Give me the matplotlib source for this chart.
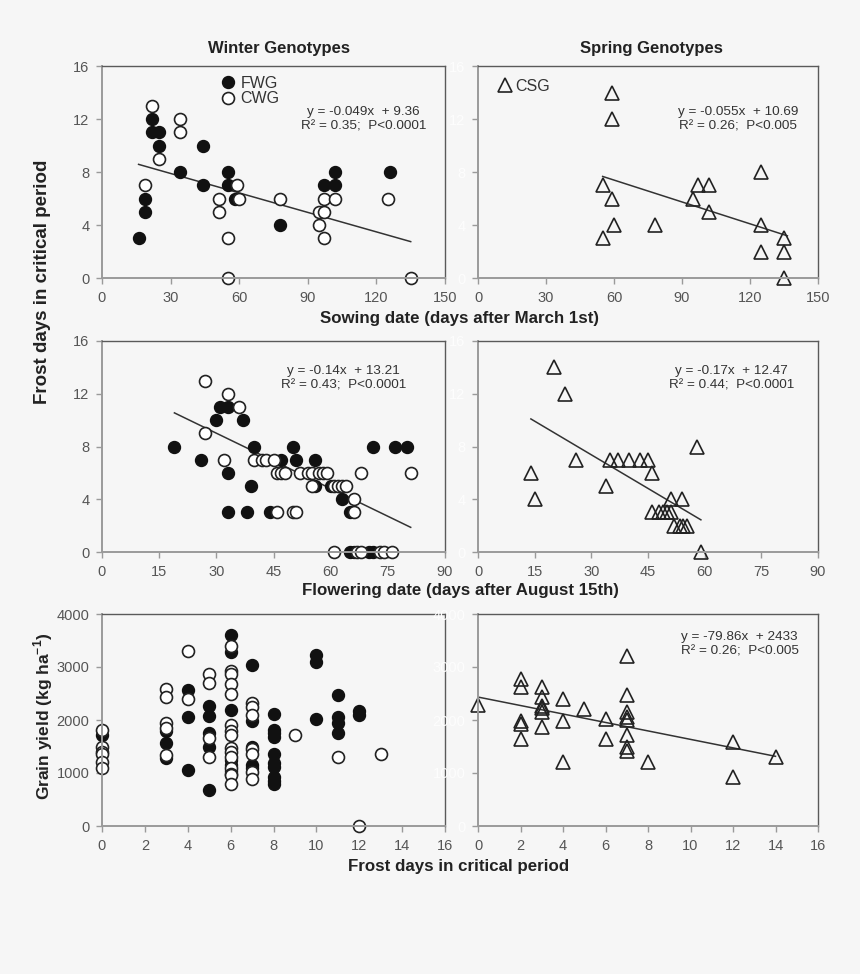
import matplotlib
matplotlib.use("Agg")
import matplotlib.pyplot as plt
import numpy as np

plt.rcParams['font.family'] = ['Liberation Sans', 'DejaVu Sans']
plt.rcParams['mathtext.fontset'] = 'custom'
plt.rcParams['mathtext.rm'] = 'Liberation Sans'
plt.rcParams['mathtext.bf'] = 'Liberation Sans:bold'

BG = '#f6f6f6'

# ---------------- Data ----------------
# Row 1: sowing date vs frost days
sow_fwg_x = [16, 19, 19, 22, 22, 25, 25, 34, 44, 44, 55, 55, 58, 78, 97, 102, 102, 126]
sow_fwg_y = [3, 6, 5, 12, 11, 11, 10, 8, 10, 7, 8, 7, 6, 4, 7, 8, 7, 8]
sow_cwg_x = [19, 22, 25, 34, 34, 51, 51, 55, 55, 59, 60, 78, 95, 95, 97, 97, 97, 102, 125, 135]
sow_cwg_y = [7, 13, 9, 12, 11, 6, 5, 3, 0, 7, 6, 6, 5, 4, 5, 6, 3, 6, 6, 0]
sow_csg_x = [59, 59, 55, 59, 60, 55, 78, 95, 97, 102, 102, 125, 125, 125, 135, 135, 135]
sow_csg_y = [14, 12, 7, 6, 4, 3, 4, 6, 7, 7, 5, 8, 4, 2, 3, 2, 0]

# Row 2: flowering date vs frost days
flo_fwg_x = [19, 26, 30, 31, 33, 33, 33, 37, 38, 39, 40, 44, 47, 50, 51, 56, 56, 60, 63,
             65, 71, 77, 80, 65, 66, 70, 71]
flo_fwg_y = [8, 7, 10, 11, 11, 6, 3, 10, 3, 5, 8, 3, 7, 8, 7, 7, 5, 5, 4,
             3, 8, 8, 8, 0, 0, 0, 0]
flo_cwg_x = [27, 27, 32, 33, 36, 40, 42, 43, 45, 46, 47, 48, 52, 54, 55, 57, 58, 59, 68, 81,
             55, 61, 62, 63, 64, 66, 46, 50, 51, 66, 61, 67, 68, 73, 74, 76]
flo_cwg_y = [13, 9, 7, 12, 11, 7, 7, 7, 7, 6, 6, 6, 6, 6, 6, 6, 6, 6, 6, 6,
             5, 5, 5, 5, 5, 4, 3, 3, 3, 3, 0, 0, 0, 0, 0, 0]
flo_csg_x = [20, 23, 26, 14, 15, 34, 35, 37, 40, 43, 45, 46, 58, 51, 54, 46, 48, 49, 50, 51,
             52, 53.5, 54.3, 55.2, 59]
flo_csg_y = [14, 12, 7, 6, 4, 5, 7, 7, 7, 7, 7, 6, 8, 4, 4, 3, 3, 3, 3, 3,
             2, 2, 2, 2, 0]

# Row 3: frost days vs grain yield
yld_fwg_x = [0, 3, 3, 3, 4, 4, 4, 5, 5, 5, 5, 5, 6, 6, 6, 6, 6, 6,
             7, 7, 7, 7, 7, 8, 8, 8, 8, 8, 8, 8, 8, 8, 8,
             10, 10, 10, 11, 11, 11, 11, 12, 12]
yld_fwg_y = [1720, 1790, 1570, 1280, 2570, 2060, 1060, 2270, 2070, 1760, 1490, 670,
             3600, 3290, 2190, 1250, 1150, 1030,
             3030, 1980, 1500, 1150, 1090,
             2110, 1810, 1750, 1670, 1360, 1180, 1120, 930, 840, 790,
             3230, 3100, 2020, 2480, 2060, 1940, 1750, 2170, 2090]
yld_cwg_x = [0, 0, 0, 0, 0, 0, 3, 3, 3, 3, 3, 4, 4, 5, 5, 5, 5,
             6, 6, 6, 6, 6, 6, 6, 6, 6, 6, 6, 6, 6, 6, 6,
             7, 7, 7, 7, 7, 7, 7, 9, 11, 12, 13]
yld_cwg_y = [1810, 1500, 1400, 1360, 1210, 1090, 2590, 2430, 1940, 1850, 1340, 3310, 2390,
             2860, 2690, 1660, 1300,
             3390, 2930, 2870, 2680, 2490, 1900, 1800, 1710, 1480, 1400, 1300, 1100, 990, 960, 790,
             2330, 2250, 2090, 1460, 1350, 1020, 880, 1720, 1310, 0, 1360]
yld_csg_x = [0, 2, 2, 2, 2, 2, 3, 3, 3, 3, 3, 3, 4, 4, 4, 5, 6, 6,
             7, 7, 7, 7, 7, 7, 7, 7, 8, 12, 12, 14]
yld_csg_y = [2280, 2770, 2620, 1990, 1920, 1650, 2620, 2430, 2260, 2220, 2160, 1860,
             2390, 1980, 1200, 2210, 2010, 1640,
             3200, 2470, 2160, 2050, 2000, 1720, 1500, 1420, 1210, 1590, 930, 1310]

# regression fits (slope, intercept, x range)
fit_sow_w = (-0.049, 9.36, 16, 135)
fit_sow_s = (-0.055, 10.69, 55, 136.5)
fit_flo_w = (-0.14, 13.21, 19, 81)
fit_flo_s = (-0.17, 12.47, 14, 59)
fit_yld_s = (-79.86, 2433, 0, 14)

eq_sow_w = "y = -0.049x  + 9.36\nR² = 0.35;  P<0.0001"
eq_sow_s = "y = -0.055x  + 10.69\nR² = 0.26;  P<0.005"
eq_flo_w = "y = -0.14x  + 13.21\nR² = 0.43;  P<0.0001"
eq_flo_s = "y = -0.17x  + 12.47\nR² = 0.44;  P<0.0001"
eq_yld_s = "y = -79.86x  + 2433\nR² = 0.26;  P<0.005"

# ---------------- Figure ----------------
fig = plt.figure(figsize=(8.6, 9.74), dpi=100, facecolor=BG)

L_x0, L_w = 102 / 860, 343 / 860
R_x0, R_w = 478 / 860, 340 / 860
rows = [(1 - 278 / 974, 212 / 974), (1 - 552 / 974, 211 / 974), (1 - 826 / 974, 212 / 974)]

def make_ax(x0, w, row):
    b, h = rows[row]
    ax = fig.add_axes([x0, b, w, h])
    ax.set_facecolor(BG)
    for s in ['top', 'right']:
        ax.spines[s].set_color('#5a5a5a')
        ax.spines[s].set_linewidth(1.0)
    for s in ['left', 'bottom']:
        ax.spines[s].set_color('#9a9a9a')
        ax.spines[s].set_linewidth(1.4)
    ax.tick_params(direction='out', length=4, width=1, color='#9a9a9a',
                   labelsize=10.5, labelcolor='#555555', pad=5)
    return ax

circ_f = dict(marker='o', ms=8.6, mfc='#111111', mec='#111111', mew=1.0, ls='none')
circ_o = dict(marker='o', ms=8.6, mfc='white', mec='#222222', mew=1.2, ls='none')
tri = dict(marker='^', ms=9.5, mfc='none', mec='#222222', mew=1.2, ls='none')

def fitline(ax, fit):
    m, c, x0, x1 = fit
    xs = np.array([x0, x1])
    ax.plot(xs, m * xs + c, color='#333333', lw=1.1, zorder=1)

def eq(ax, txt, x, y):
    ax.text(x, y, txt, transform=ax.transAxes, ha='center', va='top',
            fontsize=9.7, color='#333333', linespacing=1.3)

# Row 1
ax1 = make_ax(L_x0, L_w, 0)
fitline(ax1, fit_sow_w)
h1, = ax1.plot(sow_fwg_x, sow_fwg_y, **circ_f, clip_on=False)
h2, = ax1.plot(sow_cwg_x, sow_cwg_y, **circ_o, clip_on=False)
ax1.set_xlim(0, 150); ax1.set_ylim(0, 16)
ax1.set_xticks(range(0, 151, 30)); ax1.set_yticks(range(0, 17, 4))
eq(ax1, eq_sow_w, 0.762, 0.812)
ax1.legend([h1, h2], ['FWG', 'CWG'], loc='upper left', bbox_to_anchor=(0.345, 0.955),
           frameon=False, fontsize=11.5, handlelength=0.9, handletextpad=0.35,
           labelspacing=0.05, borderpad=0, borderaxespad=0, labelcolor='#333333')

ax2 = make_ax(R_x0, R_w, 0)
fitline(ax2, fit_sow_s)
h3, = ax2.plot(sow_csg_x, sow_csg_y, **tri, clip_on=False)
ax2.set_xlim(0, 150); ax2.set_ylim(0, 16)
ax2.set_xticks(range(0, 151, 30)); ax2.set_yticks(range(0, 17, 4))
ax2.tick_params(axis='y', labelcolor='#fdfdfd')
eq(ax2, eq_sow_s, 0.765, 0.812)
ax2.legend([h3], ['CSG'], loc='upper left', bbox_to_anchor=(0.058, 0.94),
           frameon=False, fontsize=11.5, handlelength=0.9, handletextpad=0.2,
           borderpad=0, borderaxespad=0, labelcolor='#333333')

# Row 2
ax3 = make_ax(L_x0, L_w, 1)
fitline(ax3, fit_flo_w)
ax3.plot(flo_fwg_x, flo_fwg_y, **circ_f, clip_on=False)
ax3.plot(flo_cwg_x, flo_cwg_y, **circ_o, clip_on=False)
ax3.set_xlim(0, 90); ax3.set_ylim(0, 16)
ax3.set_xticks(range(0, 91, 15)); ax3.set_yticks(range(0, 17, 4))
eq(ax3, eq_flo_w, 0.703, 0.887)

ax4 = make_ax(R_x0, R_w, 1)
fitline(ax4, fit_flo_s)
ax4.plot(flo_csg_x, flo_csg_y, **tri, clip_on=False)
ax4.set_xlim(0, 90); ax4.set_ylim(0, 16)
ax4.set_xticks(range(0, 91, 15)); ax4.set_yticks(range(0, 17, 4))
ax4.tick_params(axis='y', labelcolor='#fdfdfd')
eq(ax4, eq_flo_s, 0.746, 0.887)

# Row 3
ax5 = make_ax(L_x0, L_w, 2)
ax5.plot(yld_fwg_x, yld_fwg_y, **circ_f, clip_on=False)
ax5.plot(yld_cwg_x, yld_cwg_y, **circ_o, clip_on=False)
ax5.set_xlim(0, 16); ax5.set_ylim(0, 4000)
ax5.set_xticks(range(0, 17, 2)); ax5.set_yticks(range(0, 4001, 1000))

ax6 = make_ax(R_x0, R_w, 2)
fitline(ax6, fit_yld_s)
ax6.plot(yld_csg_x, yld_csg_y, **tri, clip_on=False)
ax6.set_xlim(0, 16); ax6.set_ylim(0, 4000)
ax6.set_xticks(range(0, 17, 2)); ax6.set_yticks(range(0, 4001, 1000))
ax6.tick_params(axis='y', labelcolor='#fdfdfd')
eq(ax6, eq_yld_s, 0.77, 0.922)

# Titles and labels
tk = dict(fontsize=12, fontweight='bold', color='#222222', ha='center', va='center')
fig.text(279 / 860, 1 - 48 / 974, 'Winter Genotypes', **tk)
fig.text(651 / 860, 1 - 48 / 974, 'Spring Genotypes', **tk)
lk = dict(fontsize=12.2, fontweight='bold', color='#222222', ha='center', va='center')
fig.text(460 / 860, 1 - 318 / 974, 'Sowing date (days after March 1st)', **lk)
fig.text(460 / 860, 1 - 590 / 974, 'Flowering date (days after August 15th)', **lk)
fig.text(459 / 860, 1 - 867 / 974, 'Frost days in critical period', **lk)
yk = dict(fontweight='bold', color='#222222', ha='center', va='center', rotation=90)
fig.text(43 / 860, 1 - 282 / 974, 'Frost days in critical period', fontsize=13.5, **yk)
fig.text(43 / 860, 1 - 716 / 974, r'Grain yield (kg ha$^{\mathbf{-1}}$)', fontsize=12.5, **yk)

fig.savefig('out.png', dpi=100, facecolor=BG)
